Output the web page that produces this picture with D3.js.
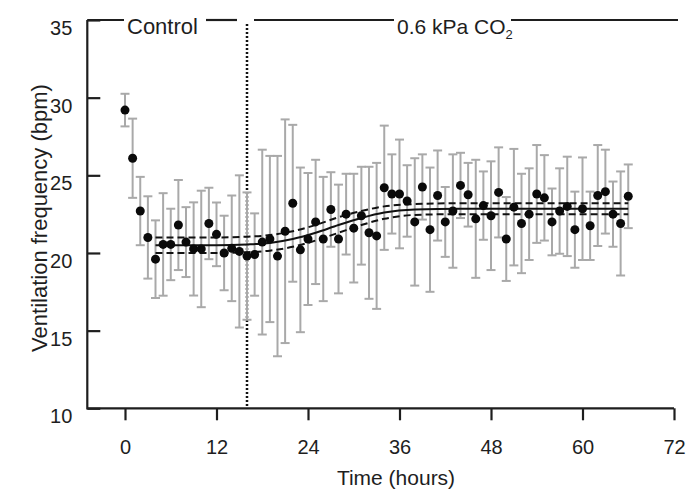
<!DOCTYPE html>
<html>
<head>
<meta charset="utf-8">
<script src="https://cdn.jsdelivr.net/npm/d3@7"></script>
<style>
    body { margin: 0; background: #fff; }
    svg text { font-family: "Liberation Sans", Arial, sans-serif; fill: #1e1e1e; }
</style>
</head>
<body>
<svg id="svg_vent" width="686" height="498"></svg>
<script>
// Ventilation frequency per hour, control then 0.6 kPa CO2
const hours = [0, 1, 2, 3, 4, 5, 6, 7, 8, 9, 10, 11, 12, 13, 14, 15, 16, 17, 18, 19,
    20, 21, 22, 23, 24, 25, 26, 27, 28, 29, 30, 31, 32, 33, 34, 35, 36, 37, 38, 39,
    40, 41, 42, 43, 44, 45, 46, 47, 48, 49, 50, 51, 52, 53, 54, 55, 56, 57, 58, 59,
    60, 61, 62, 63, 64, 65, 66];

const rateMean = [29.2, 26.1, 22.7, 21.0, 19.6, 20.55, 20.55, 21.8, 20.7, 20.26,
    20.26, 21.9, 21.2, 20.0, 20.3, 20.1, 19.8, 19.9, 20.7, 20.9,
    19.8, 21.4, 23.2, 20.2, 20.9, 22.0, 20.9, 22.8, 20.9, 22.5,
    21.6, 22.4, 21.3, 21.1, 24.2, 23.8, 23.8, 23.35, 22.0, 24.25,
    21.5, 23.7, 22.0, 22.7, 24.35, 23.75, 22.2, 23.05, 22.4, 23.9,
    20.9, 22.95, 21.9, 22.5, 23.8, 23.55, 22.0, 22.7, 23.0, 21.5,
    22.85, 21.75, 23.7, 23.95, 22.5, 21.9, 23.65];

const rateSd = [1.05, 2.55, 2.2, 2.65, 2.5, 3.3, 2.3, 2.9, 2.25, 3.0,
    3.75, 2.3, 2.05, 2.4, 3.4, 4.9, 4.1, 2.65, 5.95, 5.35,
    6.45, 7.2, 5.05, 5.3, 4.25, 4.0, 4.0, 2.4, 3.5, 2.6,
    3.5, 3.15, 4.25, 4.7, 4.0, 2.55, 3.5, 2.3, 4.1, 2.1,
    4.0, 2.9, 2.25, 3.65, 2.1, 2.05, 3.8, 2.2, 3.5, 2.9,
    2.7, 3.75, 3.2, 2.95, 3.15, 2.75, 2.15, 2.75, 3.2, 2.45,
    3.3, 2.2, 3.25, 2.7, 2.1, 3.35, 2.05];

// fitted curve and its confidence band
const fitHours = [4, 12, 16, 19, 22, 25, 28, 31, 34, 38, 44, 66];
const fitMean = [20.5, 20.5, 20.55, 20.65, 20.9, 21.3, 21.8, 22.25, 22.6, 22.8, 22.85, 22.85];
const fitUpper = [21.0, 21.0, 21.05, 21.15, 21.4, 21.8, 22.3, 22.7, 23.0, 23.15, 23.2, 23.2];
const fitLower = [20.0, 20.0, 20.05, 20.15, 20.4, 20.8, 21.3, 21.8, 22.2, 22.45, 22.5, 22.5];

const xTicks = [0, 12, 24, 36, 48, 60, 72];
const yTicks = [10, 15, 20, 25, 30, 35];
const switchHour = 16;

/**
 * Draws the ventilation time course with error bars and the fitted curve
 */
class VentChart {

    constructor() {
        this.svg = d3.select("#svg_vent");

        this.left = 87.3;
        this.top = 20;
        this.bottom = 408.3;

        this.xScale = d3.scaleLinear()
            .domain([0, 72])
            .range([125, 674]);

        this.yScale = d3.scaleLinear()
            .domain([10, 35])
            .range([this.bottom, this.top]);

        this.data = hours.map((h, i) => ({hour: h, mean: rateMean[i], sd: rateSd[i]}));

        this.drawAxes();
        this.drawBars();
        this.drawFit();
        this.drawPoints();
        this.drawHeader();
    }

    drawAxes() {
        let svg = this.svg;

        let xaxis = d3.axisBottom(this.xScale)
            .tickValues(xTicks)
            .tickSize(12)
            .tickPadding(19.5)
            .tickFormat(d => "" + d);

        let gx = svg.append("g").attr("id", "x-axis")
            .attr("transform", "translate(0," + this.bottom + ")")
            .call(xaxis);
        gx.select(".domain").remove();
        gx.selectAll("line").attr("stroke", "#1e1e1e").attr("stroke-width", 2.2);
        gx.selectAll("text").attr("font-size", 20).attr("fill", "#1e1e1e");

        let yaxis = d3.axisLeft(this.yScale)
            .tickValues(yTicks)
            .tickSize(-13)
            .tickPadding(15);

        let gy = svg.append("g").attr("id", "y-axis")
            .attr("transform", "translate(" + this.left + ",0)")
            .call(yaxis);
        gy.select(".domain").remove();
        gy.selectAll("line").attr("stroke", "#1e1e1e").attr("stroke-width", 2.2);
        gy.selectAll("text")
            .attr("font-size", 20)
            .attr("dy", "0.72em")
            .attr("fill", "#1e1e1e");

        // axis lines drawn by hand so the corner closes
        svg.append("path")
            .attr("d", "M" + this.left + "," + this.top + "V" + this.bottom + "H" + this.xScale(72))
            .attr("fill", "none")
            .attr("stroke", "#1e1e1e")
            .attr("stroke-width", 2.2);

        svg.append("text")
            .attr("x", 396)
            .attr("y", 485)
            .attr("text-anchor", "middle")
            .attr("font-size", 21)
            .text("Time (hours)");

        svg.append("text")
            .attr("transform", "translate(47,218) rotate(-90)")
            .attr("text-anchor", "middle")
            .attr("font-size", 22)
            .text("Ventilation frequency (bpm)");

        // CO2 switch
        svg.append("line")
            .attr("x1", this.xScale(switchHour))
            .attr("x2", this.xScale(switchHour))
            .attr("y1", this.top + 4)
            .attr("y2", this.bottom)
            .attr("stroke", "#111")
            .attr("stroke-width", 2.5)
            .attr("stroke-dasharray", "2,2");
    }

    drawBars() {
        let x = this.xScale, y = this.yScale;
        let cap = 4.5;

        let bars = this.svg.append("g").attr("id", "bars")
            .attr("stroke", "#a9a9a9")
            .attr("stroke-width", 2)
            .selectAll("g")
            .data(this.data)
            .enter()
            .append("g");

        bars.append("line")
            .attr("x1", d => x(d.hour))
            .attr("x2", d => x(d.hour))
            .attr("y1", d => y(d.mean + d.sd))
            .attr("y2", d => y(d.mean - d.sd));

        bars.append("line")
            .attr("x1", d => x(d.hour) - cap)
            .attr("x2", d => x(d.hour) + cap)
            .attr("y1", d => y(d.mean + d.sd))
            .attr("y2", d => y(d.mean + d.sd));

        bars.append("line")
            .attr("x1", d => x(d.hour) - cap)
            .attr("x2", d => x(d.hour) + cap)
            .attr("y1", d => y(d.mean - d.sd))
            .attr("y2", d => y(d.mean - d.sd));
    }

    drawFit() {
        let line = d3.line()
            .x(d => this.xScale(d[0]))
            .y(d => this.yScale(d[1]))
            .curve(d3.curveMonotoneX);

        let g = this.svg.append("g").attr("id", "fit")
            .attr("fill", "none")
            .attr("stroke", "#111")
            .attr("stroke-width", 2);

        g.append("path")
            .attr("d", line(d3.zip(fitHours, fitMean)));

        [fitUpper, fitLower].forEach(band => {
            g.append("path")
                .attr("d", line(d3.zip(fitHours, band)))
                .attr("stroke-dasharray", "7,4");
        });
    }

    drawPoints() {
        this.svg.append("g").attr("id", "points")
            .selectAll("circle")
            .data(this.data)
            .enter()
            .append("circle")
                .attr("cx", d => this.xScale(d.hour))
                .attr("cy", d => this.yScale(d.mean))
                .attr("r", 4.5)
                .attr("fill", "#0a0a0a");
    }

    /**
     * Condition labels along the top of the plot
     */
    drawHeader() {
        let svg = this.svg;
        let yTop = this.top;
        let segs = [[this.left, 124], [206, 237], [254, 394], [511, 678]];

        svg.append("g").attr("id", "header")
            .selectAll("line")
            .data(segs)
            .enter()
            .append("line")
                .attr("x1", d => d[0])
                .attr("x2", d => d[1])
                .attr("y1", yTop)
                .attr("y2", yTop)
                .attr("stroke", "#1e1e1e")
                .attr("stroke-width", 2.2);

        svg.append("text")
            .attr("x", 127)
            .attr("y", 34)
            .attr("font-size", 22)
            .text("Control");

        let co2 = svg.append("text")
            .attr("x", 397)
            .attr("y", 34)
            .attr("font-size", 21)
            .text("0.6 kPa CO");
        co2.append("tspan")
            .attr("font-size", 13)
            .attr("dy", 5)
            .text("2");
    }
}

new VentChart();
</script>
</body>
</html>
